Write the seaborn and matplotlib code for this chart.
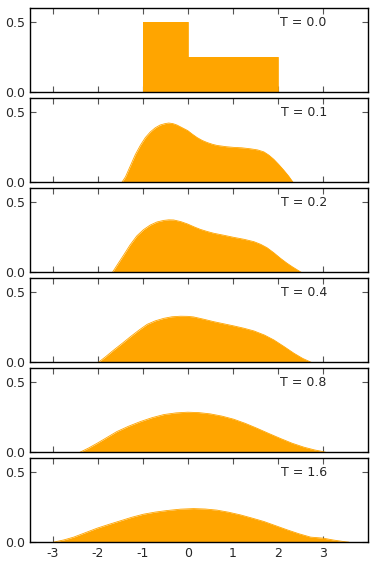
import matplotlib
matplotlib.use('Agg')
import matplotlib.pyplot as plt
import seaborn as sns
import pandas as pd

times = ['0.0', '0.1', '0.2', '0.4', '0.8', '1.6']

x_t00 = [-1.0, -1.0, 0.0, 0.0, 2.0, 2.0]
y_t00 = [0.0, 0.5, 0.5, 0.25, 0.25, 0.0]

x_t01 = [-1.46, -1.38, -1.27, -1.16, -1.05, -0.94, -0.83, -0.72, -0.61, -0.5, -0.42,
         -0.33, -0.24, -0.12, 0.0, 0.1, 0.21, 0.32, 0.43, 0.55, 0.65, 0.85, 1.02,
         1.2, 1.39, 1.55, 1.69, 1.8, 1.91, 2.02, 2.13, 2.24, 2.34]
y_t01 = [0.0, 0.04, 0.12, 0.2, 0.265, 0.32, 0.36, 0.39, 0.41, 0.42, 0.424,
         0.42, 0.41, 0.39, 0.37, 0.345, 0.32, 0.3, 0.285, 0.272, 0.264, 0.255, 0.25,
         0.247, 0.24, 0.232, 0.218, 0.195, 0.165, 0.128, 0.088, 0.045, 0.0]

x_t02 = [-1.67, -1.55, -1.42, -1.28, -1.13, -0.98, -0.83, -0.68, -0.53, -0.42, -0.31,
         -0.15, 0.0, 0.14, 0.28, 0.43, 0.58, 0.8, 1.02, 1.25, 1.47, 1.62, 1.76,
         1.91, 2.06, 2.2, 2.32, 2.42, 2.52]
y_t02 = [0.0, 0.06, 0.124, 0.195, 0.26, 0.305, 0.338, 0.36, 0.371, 0.375, 0.374,
         0.362, 0.345, 0.325, 0.307, 0.292, 0.279, 0.265, 0.25, 0.236, 0.219, 0.2, 0.176,
         0.14, 0.1, 0.066, 0.04, 0.02, 0.0]

x_t04 = [-1.98, -1.82, -1.64, -1.45, -1.27, -1.08, -0.9, -0.72, -0.53, -0.35, -0.16,
         0.0, 0.13, 0.35, 0.58, 0.8, 1.02, 1.25, 1.47, 1.7, 1.91, 2.14, 2.36, 2.55, 2.74]
y_t04 = [0.0, 0.04, 0.088, 0.136, 0.183, 0.23, 0.271, 0.296, 0.314, 0.325, 0.329,
         0.328, 0.324, 0.308, 0.29, 0.275, 0.26, 0.243, 0.224, 0.195, 0.16, 0.112, 0.064, 0.028, 0.0]

x_t08 = [-2.39, -2.2, -2.01, -1.79, -1.57, -1.31, -1.05, -0.79, -0.53, -0.26, 0.0,
         0.25, 0.5, 0.76, 1.02, 1.28, 1.54, 1.8, 2.06, 2.32, 2.58, 2.82, 2.95, 3.06]
y_t08 = [0.0, 0.03, 0.064, 0.106, 0.148, 0.186, 0.219, 0.247, 0.269, 0.281, 0.286,
         0.283, 0.274, 0.258, 0.236, 0.206, 0.171, 0.134, 0.098, 0.064, 0.036, 0.016, 0.008, 0.0]

x_t16 = [-2.98, -2.75, -2.53, -2.27, -2.01, -1.75, -1.5, -1.24, -0.98, -0.72, -0.46,
         -0.16, 0.13, 0.39, 0.65, 0.91, 1.17, 1.43, 1.69, 1.95, 2.21, 2.47, 2.73,
         3.0, 3.24, 3.45, 3.58]
y_t16 = [0.0, 0.016, 0.036, 0.068, 0.1, 0.127, 0.152, 0.178, 0.2, 0.215, 0.226,
         0.236, 0.24, 0.237, 0.229, 0.214, 0.195, 0.172, 0.148, 0.118, 0.088, 0.06, 0.036,
         0.029, 0.015, 0.005, 0.0]

curves = [(x_t00, y_t00), (x_t01, y_t01), (x_t02, y_t02),
          (x_t04, y_t04), (x_t08, y_t08), (x_t16, y_t16)]

xticks = [-3, -2, -1, 0, 1, 2, 3]
yticks = [0.0, 0.5]

sns.set_style('ticks', {'xtick.direction': 'in', 'ytick.direction': 'in',
                        'xtick.top': True, 'ytick.right': True,
                        'axes.edgecolor': 'black'})
plt.rcParams['font.family'] = ['DejaVu Sans']

fig, axes = plt.subplots(6, 1, figsize=(3.75, 5.63), dpi=100, sharex=True)
fig.subplots_adjust(left=0.08, right=0.981, top=0.985, bottom=0.037, hspace=0.0714)

for ax, t, (xs, ys) in zip(axes, times, curves):
    df = pd.DataFrame({'x': xs, 'y': ys})
    sns.lineplot(data=df, x='x', y='y', ax=ax, color='orange', linewidth=0.6,
                 sort=False, estimator=None)
    ax.fill_between(df['x'], df['y'], color='orange', linewidth=0)
    ax.set_xlim(-3.5, 4)
    ax.set_ylim(0, 0.6)
    ax.set_xticks(xticks)
    ax.set_yticks(yticks)
    ax.set_yticklabels(['0.0', '0.5'])
    ax.set_xlabel('')
    ax.set_ylabel('')
    ax.tick_params(labelsize=9, length=4, width=0.8, color='#555555')
    for s in ax.spines.values():
        s.set_linewidth(1.0)
    ax.text(0.81, 0.833, 'T = ' + t, transform=ax.transAxes,
            ha='center', va='center', fontsize=9)

axes[-1].set_xticklabels([str(v) for v in xticks])

plt.savefig('out.png', dpi=100)
plt.close()
